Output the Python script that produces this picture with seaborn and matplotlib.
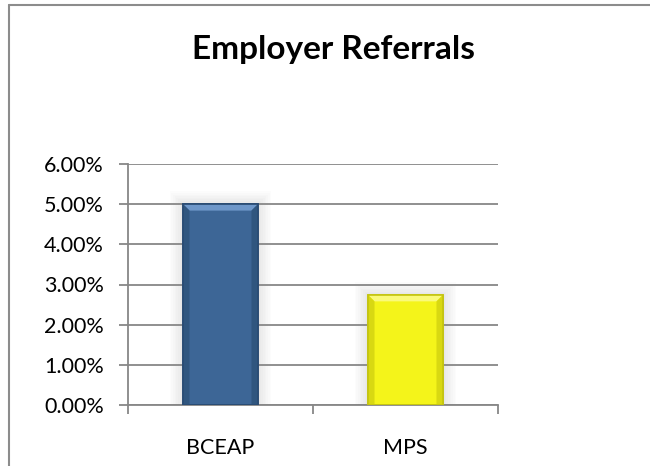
import numpy as np
import pandas as pd
import seaborn as sns
import matplotlib.pyplot as plt
from matplotlib.lines import Line2D
from matplotlib.patches import Polygon
from matplotlib.ticker import PercentFormatter, FixedLocator

programs = ['BCEAP', 'MPS']
referral_rate = [5.00, 2.74]
bar_colors = ['#3D6696', '#F4F41A']
edge_colors = ['#2A4C74', '#C4C410']
top_bevel = ['#6E97C9', '#FAFA7A']
side_bevel = ['#30567F', '#D8D812']
y_ticks = [0, 1, 2, 3, 4, 5, 6]

frame = pd.DataFrame({'program': programs, 'rate': referral_rate})

sns.set_theme(style="white")
plt.rcParams['font.family'] = ['Lato', 'DejaVu Sans']

fig = plt.figure(figsize=(6.5, 4.66), dpi=100)
ax = fig.add_axes([128 / 650, 1 - 405 / 466, 370 / 650, 241 / 466])

sns.barplot(data=frame, x='program', y='rate', hue='program', palette=bar_colors,
            saturation=1, width=0.405, legend=False, ax=ax, zorder=3)

ax.set_ylim(0, 6)
ax.set_xlim(-0.5, 1.5)

# fake the excel bevel: light strip on top, darker strips at the sides,
# plus a soft grey glow behind each bar
dx, dy = 0.035, 0.16
for bar, ec, tb, sb in zip(ax.patches, edge_colors, top_bevel, side_bevel):
    x0, w, h = bar.get_x(), bar.get_width(), bar.get_height()
    x1 = x0 + w
    for k in range(1, 9):
        gx, gy = 0.009 * k, 0.04 * k
        ax.add_patch(plt.Rectangle((x0 - gx, 0), w + 2 * gx, h + gy, facecolor='#000000',
                                   alpha=0.012, edgecolor='none', zorder=0.4))
    ax.add_patch(Polygon([(x0, h), (x1, h), (x1 - dx, h - dy), (x0 + dx, h - dy)],
                         closed=True, facecolor=tb, edgecolor='none', zorder=4))
    ax.add_patch(Polygon([(x0, 0), (x0, h), (x0 + dx, h - dy), (x0 + dx, 0)],
                         closed=True, facecolor=sb, edgecolor='none', zorder=4))
    ax.add_patch(Polygon([(x1, 0), (x1, h), (x1 - dx, h - dy), (x1 - dx, 0)],
                         closed=True, facecolor=sb, edgecolor='none', zorder=4))
    bar.set_edgecolor(ec)
    bar.set_linewidth(1.2)
    bar.set_zorder(3)
    ax.add_patch(plt.Rectangle((x0, 0), w, h, facecolor='none', edgecolor=ec,
                               linewidth=1.2, zorder=5))

ax.yaxis.set_major_locator(FixedLocator(y_ticks))
ax.yaxis.set_major_formatter(PercentFormatter(decimals=2))
ax.grid(axis='y', color='#878787', linewidth=1.3, zorder=0)
ax.set_axisbelow(True)

for side in ['top', 'right']:
    ax.spines[side].set_visible(False)
for side in ['left', 'bottom']:
    ax.spines[side].set_color('#878787')
    ax.spines[side].set_linewidth(1.3)

ax.set_xlabel('')
ax.set_ylabel('')
ax.tick_params(axis='y', left=True, length=6.5, width=1.3, color='#878787',
               labelsize=15.5, labelcolor='black', pad=11)
ax.tick_params(axis='x', bottom=False, labelsize=15.5, labelcolor='black', pad=18)
ax.set_xticks([-0.5, 0.5, 1.5], minor=True)
ax.tick_params(axis='x', which='minor', bottom=True, length=6.5, width=1.3, color='#878787')

fig.text(333 / 650, 1 - 59 / 466, 'Employer Referrals', ha='center', va='baseline',
         fontsize=24, fontweight='bold', color='black')

# chart frame, only top and left edges are visible in the crop
fig.add_artist(Line2D([8.5 / 650, 1], [1 - 4.5 / 466, 1 - 4.5 / 466],
                      transform=fig.transFigure, color='#8C8C8C', linewidth=1.5))
fig.add_artist(Line2D([8.5 / 650, 8.5 / 650], [0, 1 - 4.5 / 466],
                      transform=fig.transFigure, color='#8C8C8C', linewidth=1.5))

fig.savefig('out.png', dpi=100, facecolor='white')
